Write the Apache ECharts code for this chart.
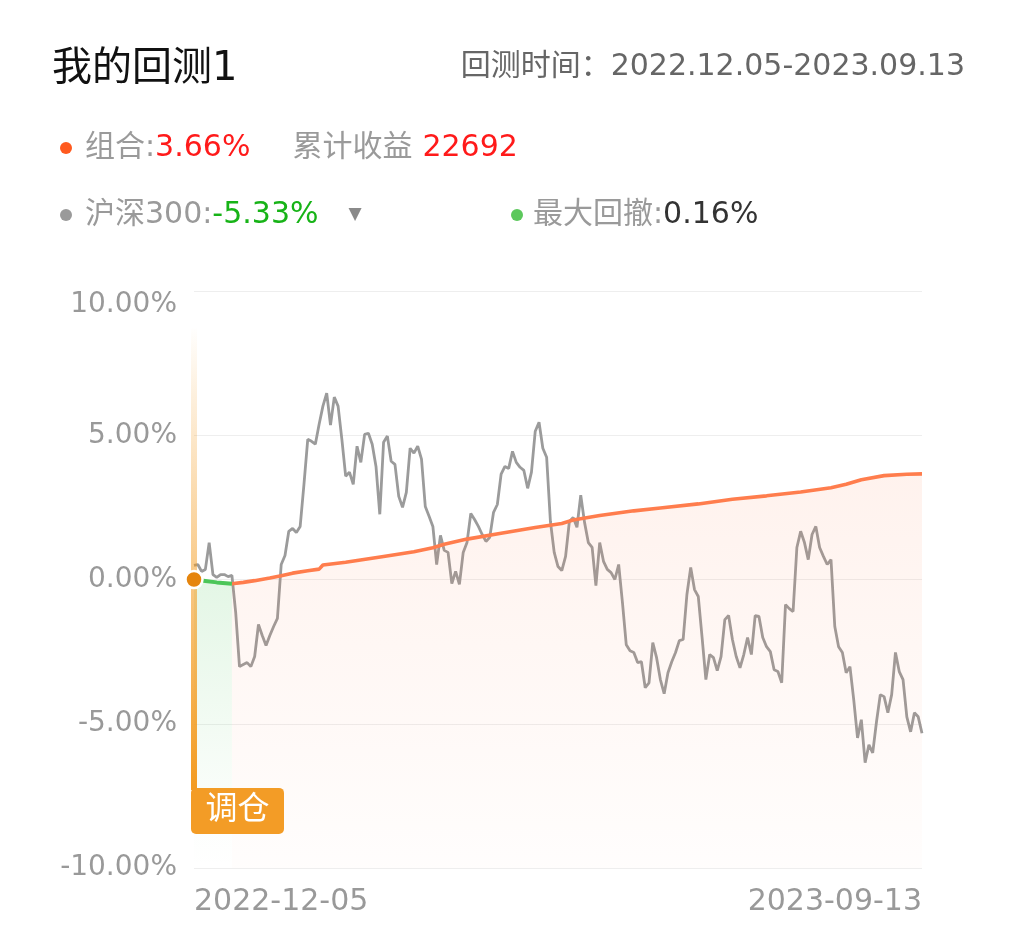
<!DOCTYPE html>
<html><head><meta charset="utf-8">
<script src="https://cdn.jsdelivr.net/npm/echarts@6/dist/echarts.min.js"></script>
<style>html,body{margin:0;padding:0;background:#fff}#c{width:1010px;height:950px}</style>
</head><body><div id="c"></div>
<script>
// ---- data ----
const xLabels = ['2022-12-05', '2023-09-13'];
const yMin = -10, yMax = 10, yInterval = 5;
const titleText = '我的回测1';
const periodText = '回测时间：2022.12.05-2023.09.13';
const portfolioReturn = '3.66%';
const cumulativeProfit = '22692';
const hs300Return = '-5.33%';
const maxDrawdown = '0.16%';

// 沪深300 (%)
const hs300 = [
  0.49, 0.52, 0.28, 0.35, 1.28, 0.17, 0.07, 0.17, 0.17, 0.10,
  0.14, -1.15, -3.02, -2.95, -2.88, -3.02, -2.67, -1.56, -1.94, -2.29,
  -1.94, -1.63, -1.35, 0.52, 0.83, 1.67, 1.77, 1.63, 1.84, 3.30,
  4.86, 4.79, 4.69, 5.38, 6.01, 6.46, 5.35, 6.32, 6.01, 4.86,
  3.58, 3.72, 3.30, 4.62, 4.06, 5.03, 5.07, 4.69, 3.92, 2.26,
  4.76, 4.97, 4.10, 3.99, 2.88, 2.50, 3.02, 4.55, 4.38, 4.62,
  4.17, 2.53, 2.19, 1.84, 0.52, 1.53, 1.01, 0.94, -0.14, 0.28,
  -0.17, 0.94, 1.28, 2.29, 2.08, 1.84, 1.56, 1.32, 1.46, 2.33,
  2.60, 3.65, 3.92, 3.85, 4.44, 4.06, 3.89, 3.78, 3.16, 3.72,
  5.14, 5.45, 4.55, 4.24, 2.01, 0.94, 0.45, 0.31, 0.80, 2.01,
  2.15, 1.81, 2.92, 1.98, 1.28, 1.11, -0.21, 1.28, 0.63, 0.35,
  0.24, 0.00, 0.52, -0.80, -2.26, -2.47, -2.53, -2.88, -2.85, -3.75,
  -3.58, -2.19, -2.71, -3.47, -3.96, -3.23, -2.85, -2.53, -2.12, -2.08,
  -0.52, 0.42, -0.35, -0.59, -2.01, -3.47, -2.60, -2.71, -3.16, -2.67,
  -1.39, -1.25, -2.08, -2.67, -3.06, -2.60, -2.01, -2.60, -1.25, -1.28,
  -2.01, -2.33, -2.50, -3.13, -3.19, -3.58, -0.87, -1.01, -1.11, 1.11,
  1.67, 1.28, 0.69, 1.56, 1.84, 1.11, 0.80, 0.52, 0.69, -1.63,
  -2.33, -2.53, -3.23, -3.02, -4.17, -5.49, -4.86, -6.35, -5.73, -6.01,
  -4.93, -3.99, -4.06, -4.62, -3.99, -2.53, -3.19, -3.47, -4.76, -5.28,
  -4.62, -4.76, -5.33
];
// 组合 (%) [day index, value]
const portfolio = [
  [10, -0.15], [13, -0.10], [16, -0.04], [20, 0.05], [23, 0.13], [26, 0.22],
  [30, 0.30], [33, 0.36], [34, 0.50], [40, 0.60], [50, 0.80], [58, 0.96],
  [63, 1.10], [66, 1.22], [72, 1.40], [81, 1.60], [90, 1.80], [97, 1.94],
  [100, 2.06], [107, 2.22], [116, 2.38], [123, 2.48], [133, 2.62], [142, 2.78],
  [151, 2.90], [160, 3.03], [168, 3.18], [172, 3.30], [176, 3.46], [182, 3.60],
  [188, 3.65], [192, 3.66]
];
// 最大回撤区间 (%)
const drawdown = [[0, 0], [3, -0.05], [6, -0.10], [10, -0.15]];
const rebalanceIndex = 0;
const rebalanceBarTop = 8.7, rebalanceBarBottom = -7.3, rebalanceLabelY = -8.02;

// ---- chart ----
const FONT = '"DejaVu Sans", "Noto Sans CJK SC", sans-serif';
const N = hs300.length;
const categories = hs300.map((_, i) => i);
const G = echarts.graphic.LinearGradient;

const chart = echarts.init(document.getElementById('c'), null, {renderer: 'canvas'});
const tok = (color) => ({fontSize: 30, color: color, fontFamily: FONT, fontWeight: 'normal'});
chart.setOption({
  animation: false,
  backgroundColor: '#fff',
  title: [
    {text: titleText, left: 47, top: 45, textStyle: {fontSize: 40, fontWeight: 'normal', color: '#111', fontFamily: FONT}},
    {text: periodText, right: 40, top: 47, textStyle: {fontSize: 30, fontWeight: 'normal', color: '#666', fontFamily: FONT}},
    {
      text: '{dot|}{sp|}{lab|组合:}{red|' + portfolioReturn + '}{gap|}{lab|累计收益}{sp2|}{red|' + cumulativeProfit + '}',
      left: 55, top: 128,
      textStyle: {fontWeight: 'normal', rich: {
        dot: {width: 12, height: 12, borderRadius: 6, backgroundColor: '#FF5A1F'},
        sp: {width: 13}, gap: {width: 42}, sp2: {width: 10},
        lab: tok('#9a9a9a'),
        red: tok('#FF1A1A')
      }}
    },
    {
      text: '{dot|}{sp|}{lab|沪深300:}{green|' + hs300Return + '}{sp3|}{tri|▼}',
      left: 55, top: 195,
      textStyle: {fontWeight: 'normal', rich: {
        dot: {width: 12, height: 12, borderRadius: 6, backgroundColor: '#9a9a9a'},
        sp: {width: 13}, sp3: {width: 30},
        lab: tok('#9a9a9a'),
        green: tok('#17B317'),
        tri: {fontSize: 17, color: '#8a8a8a', fontFamily: FONT, fontWeight: 'normal'}
      }}
    },
    {
      text: '{dot|}{sp|}{lab|最大回撤:}{dark|' + maxDrawdown + '}',
      left: 506, top: 195,
      textStyle: {fontWeight: 'normal', rich: {
        dot: {width: 12, height: 12, borderRadius: 6, backgroundColor: '#5CC85C'},
        sp: {width: 10},
        lab: tok('#9a9a9a'),
        dark: tok('#333333')
      }}
    }
  ],
  grid: {left: 194, right: 88, top: 291, bottom: 82, containLabel: false},
  xAxis: {
    type: 'category', boundaryGap: false, data: categories,
    axisLine: {show: false}, axisTick: {show: false}, splitLine: {show: false},
    axisLabel: {
      interval: (i) => i === 0 || i === N - 1,
      formatter: (v, i) => (i === 0 ? xLabels[0] : xLabels[1]),
      alignMinLabel: 'left', alignMaxLabel: 'right',
      color: '#999', fontSize: 30, fontFamily: FONT, margin: 19
    }
  },
  yAxis: {
    type: 'value', min: yMin, max: yMax, interval: yInterval,
    axisLine: {show: false}, axisTick: {show: false},
    splitLine: {lineStyle: {color: '#eeeeee', width: 1}},
    axisLabel: {
      formatter: (v) => v.toFixed(2) + '%',
      verticalAlignMaxLabel: 'top',
      color: '#999', fontSize: 28, fontFamily: FONT, margin: 17
    }
  },
  series: [
    {
      name: '沪深300', type: 'line', data: hs300, showSymbol: false, silent: true,
      lineStyle: {color: '#9b9b9b', width: 2.8}, z: 2
    },
    {
      name: '组合', type: 'line', data: portfolio, showSymbol: false, silent: true,
      lineStyle: {color: '#FF7D4D', width: 3.6},
      areaStyle: {origin: 'start', color: new G(0, 0, 0, 1, [
        {offset: 0, color: 'rgba(255,125,77,0.14)'},
        {offset: 1, color: 'rgba(255,125,77,0.02)'}
      ])}, z: 3
    },
    {
      name: '最大回撤', type: 'line', data: drawdown, showSymbol: false, silent: true,
      lineStyle: {color: '#4CC659', width: 4},
      areaStyle: {origin: 'start', color: new G(0, 0, 0, 1, [
        {offset: 0, color: 'rgba(76,198,89,0.22)'},
        {offset: 0.85, color: 'rgba(76,198,89,0.02)'},
        {offset: 1, color: 'rgba(76,198,89,0)'}
      ])}, z: 4,
      markLine: {
        silent: true, symbol: ['none', 'none'], animation: false,
        label: {show: false},
        lineStyle: {width: 6, type: 'solid', cap: 'butt', color: new G(0, 0, 0, 1, [
          {offset: 0, color: 'rgba(243,154,30,0)'},
          {offset: 1, color: 'rgba(243,154,30,1)'}
        ])},
        data: [[{coord: [rebalanceIndex, rebalanceBarTop]}, {coord: [rebalanceIndex, rebalanceBarBottom]}]]
      },
      markPoint: {
        silent: true, animation: false,
        data: [
          {coord: [rebalanceIndex, 0], symbol: 'circle', symbolSize: 17,
           itemStyle: {color: '#E5850E', borderColor: '#fff', borderWidth: 2.5}, label: {show: false}},
          {coord: [rebalanceIndex, rebalanceLabelY],
           symbol: 'path://M5,0H88A5,5,0,0,1,93,5V41A5,5,0,0,1,88,46H5A5,5,0,0,1,0,41V5A5,5,0,0,1,5,0Z',
           symbolSize: [93, 46], symbolOffset: [43.5, 0], symbolKeepAspect: false,
           itemStyle: {color: '#F39C26'},
           label: {show: true, formatter: '调仓', position: 'inside', color: '#fff', fontSize: 32, fontFamily: FONT}}
        ]
      }
    }
  ]
});
</script></body></html>
